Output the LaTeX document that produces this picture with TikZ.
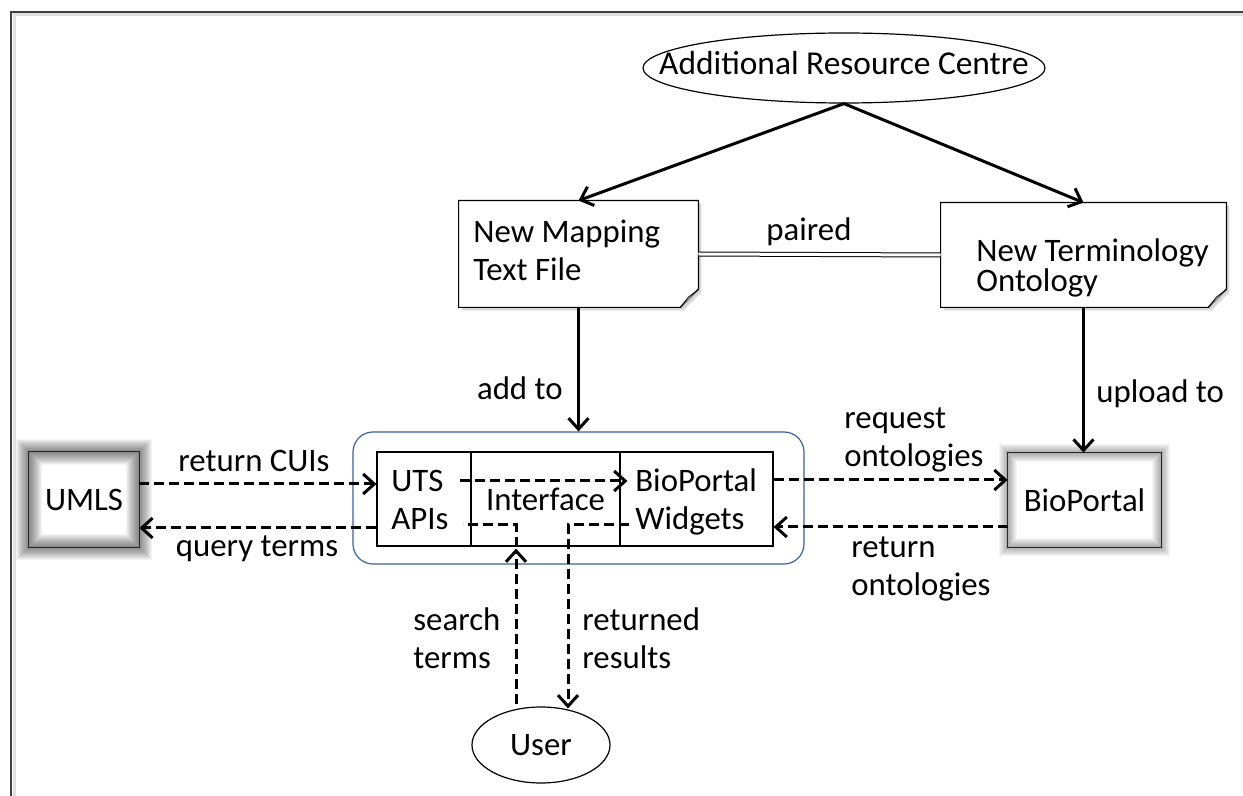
\documentclass[tikz,border=0pt]{standalone}
\usepackage{fontspec}
\setmainfont{Carlito}
\usetikzlibrary{arrows.meta,shapes.geometric,calc}
\definecolor{contblue}{RGB}{58,99,160}
\begin{document}
\begin{tikzpicture}[x=0.5pt,y=-0.5pt,
  font=\fontsize{16.4}{18.75}\selectfont,
  solidarr/.style={line width=1.5pt,-{Straight Barb[length=5.5pt,width=10pt]}},
  dasharr/.style={line width=1.5pt,dash pattern=on 5pt off 2.5pt,-{Straight Barb[length=5.5pt,width=10pt]}},
  dashline/.style={line width=1.5pt,dash pattern=on 5pt off 2.5pt},
  lbl/.style={inner sep=0pt},
  mlbl/.style={inner sep=0pt,align=left,text width=70pt,anchor=base west},
  docnode/.style={inner sep=0pt,draw=none},
  inbox/.style={draw,line width=0.6pt,inner sep=0pt,minimum height=47pt}
]
\useasboundingbox (0,0) rectangle (1243,796);
\fill[white] (0,0) rectangle (1243,796);
% frame
\draw[black!12,line width=1.5pt] (14,796) -- (14,15) -- (1243,15);
\draw[black!75,line width=1pt] (11,796) -- (11,12) -- (1243,12);

% top ellipse
\node[draw,ellipse,line width=0.6pt,inner sep=0pt,minimum width=201pt,minimum height=35pt] (arc) at (844,68) {};
\node[lbl,anchor=base,font=\fontsize{16.7}{20}\selectfont] (arctxt) at (844,75) {Additional Resource Centre};

% documents
\node[docnode,minimum width=119.5pt,minimum height=53pt] (map) at (578.5,254) {};
\node[docnode,minimum width=142.5pt,minimum height=52pt] (term) at (1083.5,255) {};
\foreach \d in {map,term}{
  \fill[black!25,opacity=0.6] ([xshift=1.5pt,yshift=-1.5pt]\d.north west) -- ([xshift=1.5pt,yshift=-1.5pt]\d.north east)
    -- ([xshift=1.5pt,yshift=7.5pt]\d.south east) -- ([xshift=-7.5pt,yshift=-1.5pt]\d.south east)
    -- ([xshift=1.5pt,yshift=-1.5pt]\d.south west) -- cycle;
  \draw[fill=white,line width=0.6pt] (\d.north west) -- (\d.north east) -- ([yshift=9pt]\d.south east)
    -- ([xshift=-9pt]\d.south east) -- (\d.south west) -- cycle;
  \draw[fill=black!6,line width=0.5pt] ([yshift=9pt]\d.south east) -- ([xshift=-5pt,yshift=5pt]\d.south east)
    -- ([xshift=-9pt]\d.south east);
}
\node[mlbl,text width=105pt] (maptxt) at (473,243) {\spaceskip=0pt\relax New Mapping\\Text File};
\node[mlbl,text width=125pt,font=\fontsize{16.4}{15}\selectfont] (termtxt) at (976,262) {\spaceskip=0pt\relax New Terminology\\Ontology};

% container
\node[draw=contblue,line width=0.6pt,rounded corners=10pt,inner sep=0pt,minimum width=225.5pt,minimum height=66pt] (cont) at (578.5,498) {};
\node[inbox,minimum width=47pt] (uts) at (424,499) {};
\node[inbox,minimum width=74.5pt] (iface) at (545.5,499) {Interface};
\node[inbox,minimum width=76.5pt] (widg) at (696.5,499) {};
\node[mlbl] (utstxt) at (391,492) {UTS\\APIs};
\node[mlbl] (widgtxt) at (635,492) {BioPortal\\Widgets};

% side systems
\node[inner sep=0pt,minimum width=55pt,minimum height=47.5pt] (umls) at (84,499.5) {UMLS};
\node[inner sep=0pt,minimum width=76.5pt,minimum height=47pt] (bp) at (1084.5,500) {BioPortal};
\foreach \w in {1,...,13}{
  \draw[black,line width=\w pt,opacity=0.045] (umls.south west) rectangle (umls.north east);
}
\foreach \w in {1,...,9}{
  \draw[black,line width=\w pt,opacity=0.04] (bp.south west) rectangle (bp.north east);
}
\draw[black!85,line width=0.8pt] (umls.south west) rectangle (umls.north east);
\draw[black!85,line width=0.8pt] (bp.south west) rectangle (bp.north east);

% user
\node[draw,ellipse,line width=0.6pt,inner sep=0pt,minimum width=69pt,minimum height=38pt] (user) at (541,745) {User};

% solid arrows
\draw[solidarr] (arc.south) -- (map.north);
\draw[solidarr] (arc.south) -- (term.north);
\draw[solidarr] (map.south) -- (cont.north);
\draw[solidarr] (term.south) -- (term.south |- bp.north);
\draw[line width=0.5pt,double,double distance=1.5pt] (map.east) -- (term.west);
\node[lbl,anchor=base] (lpaired) at (809,241) {paired};
\node[lbl,anchor=base east] (ladd) at (563,400) {add to};
\node[lbl,anchor=base west] (lupload) at (1096,403) {upload to};

% UMLS <-> UTS
\draw[dasharr] ([yshift=7.75pt]umls.east) -- ([yshift=7.75pt]umls.east -| uts.west);
\draw[dasharr] ([yshift=-14.5pt]uts.west) -- ([yshift=-14.5pt]uts.west -| umls.east);
\node[lbl,anchor=base] (lcui) at (254,472) {return CUIs};
\node[lbl,anchor=base] (lquery) at (257,557) {query terms};

% internal
\draw[dasharr] ([xshift=-6pt,yshift=9pt]uts.east) -- ([xshift=4pt,yshift=9pt]widg.west);

% Widgets <-> BioPortal
\draw[dasharr] ([yshift=9.5pt]widg.east) -- ([yshift=9.5pt]widg.east -| bp.west);
\draw[dasharr] ([yshift=-14pt]widg.east -| bp.west) -- ([yshift=-14pt]widg.east);
\node[mlbl] (lreq) at (844,429) {request\\ontologies};
\node[mlbl] (lret) at (851,558) {return\\ontologies};

% user paths
\coordinate (sin) at ([xshift=-14.75pt]iface.south);
\coordinate (rout) at ([xshift=11.25pt]iface.south);
\draw[dasharr] ($(sin |- user.north)+(0,1pt)$) -- ($(sin)+(0,-1pt)$);
\draw[dashline] (sin) |- ([xshift=-4.5pt,yshift=-13pt]uts.east);
\draw[dasharr] ([xshift=5pt,yshift=-13pt]widg.west) -| ($(rout |- user.north)+(0,-1pt)$);
\node[mlbl] (lsearch) at (413,631) {search\\terms};
\node[mlbl] (lreturned) at (582,631) {returned\\results};
\end{tikzpicture}
\end{document}
